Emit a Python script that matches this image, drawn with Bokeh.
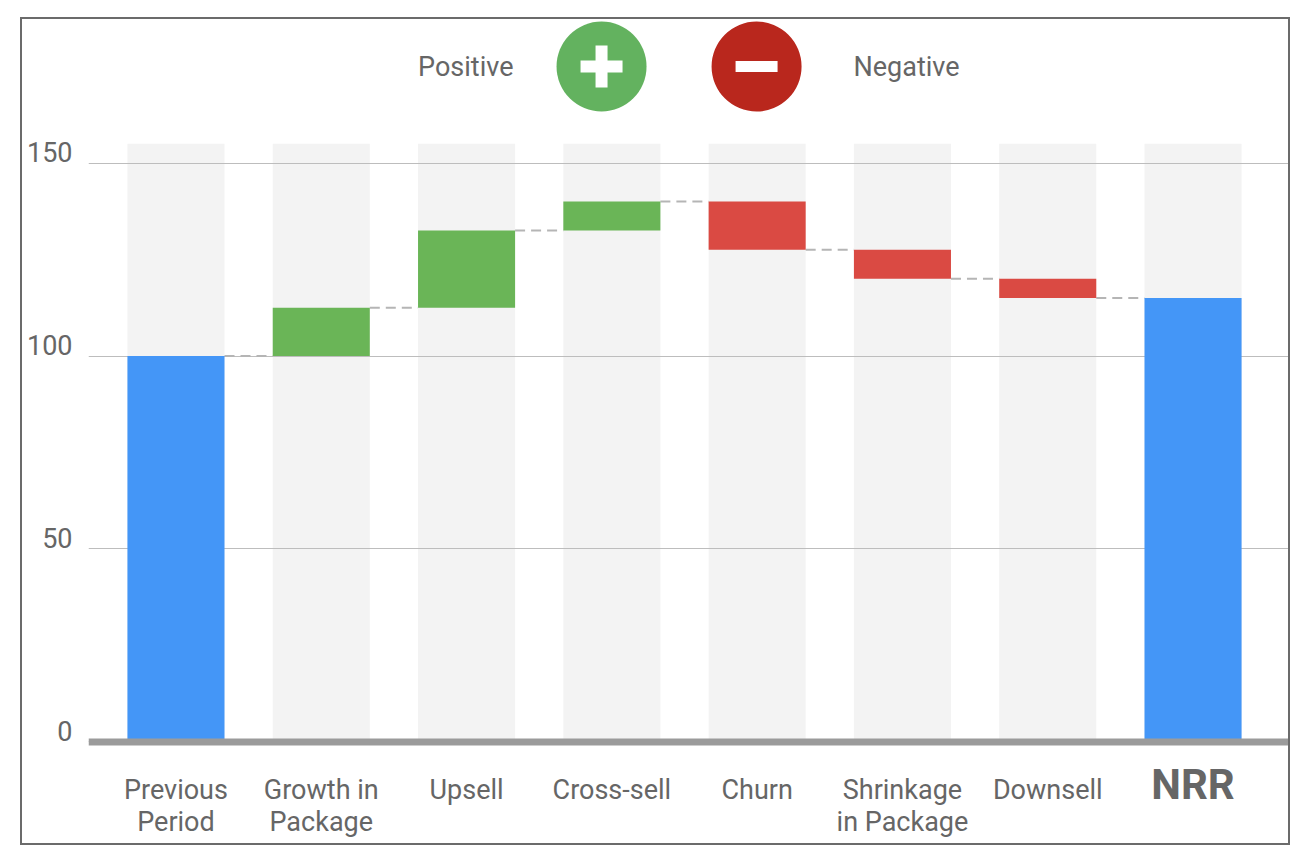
from bokeh.plotting import figure
from bokeh.models import Range1d, LinearAxis, FixedTicker, Span
from bokeh.core.properties import value
from bokeh.embed import file_html
from bokeh.resources import INLINE

# ---------------- data ----------------
categories = ["Previous Period", "Growth in Package", "Upsell", "Cross-sell",
              "Churn", "Shrinkage in Package", "Downsell", "NRR"]
tick_labels = ["Previous\nPeriod", "Growth in\nPackage", "Upsell", "Cross-sell",
               "Churn", "Shrinkage\nin Package", "Downsell", "NRR"]
start_value = 100
changes = [12.5, 20, 7.5, -12.5, -7.5, -5]
y_ticks = [0, 50, 100, 150]
band_top = 155
legend_labels = ["Positive", "Negative"]

# ---------------- style ----------------
FONT = "Roboto"
TXT = "#666666"
BLUE = "#4496f7"
GREEN = "#6ab557"
RED = "#da4a43"
LEG_GREEN = "#63b25f"
LEG_RED = "#b9271d"
BAND = "#f3f3f3"
BAR_W = 0.668

# ---------------- derived ----------------
n = len(categories)
xs = list(range(n))
levels = [start_value]
for c in changes:
    levels.append(levels[-1] + c)
end_value = levels[-1]

bottoms, tops, colors = [0], [start_value], [BLUE]
for i, c in enumerate(changes):
    a, b = levels[i], levels[i + 1]
    bottoms.append(min(a, b))
    tops.append(max(a, b))
    colors.append(GREEN if c >= 0 else RED)
bottoms.append(0)
tops.append(end_value)
colors.append(BLUE)

Y_TOP = 187.18
Y_BOT = -26.30
p = figure(width=1266, height=824,
           x_range=Range1d(-0.602, 7.657), y_range=Range1d(Y_BOT, Y_TOP),
           output_backend="svg", toolbar_location=None,
           min_border_left=66, min_border_right=0, min_border_top=0,
           min_border_bottom=0)
p.margin = (19, 0, 0, 22)
p.styles = {"outline": "2px solid #6b6b6b"}
p.outline_line_color = None
p.background_fill_color = "white"
p.border_fill_color = "white"

# background bands
bands = p.vbar(x=xs, top=[band_top] * n, bottom=0, width=BAR_W,
               fill_color=BAND, line_color=None)
bands.level = "image"

# grid
p.xgrid.visible = False
p.ygrid.ticker = FixedTicker(ticks=y_ticks)
p.ygrid.grid_line_color = "#bdbdbd"
p.ygrid.grid_line_width = 1.2

# connectors
p.segment(x0=[x + BAR_W / 2 for x in xs[:-1]], x1=[x + 1 - BAR_W / 2 for x in xs[:-1]],
          y0=levels, y1=levels, line_color="#b5b5b5", line_width=2,
          line_dash="10 6")

# bars
p.vbar(x=xs, top=tops, bottom=bottoms, width=BAR_W, fill_color=colors,
       line_color=None)

# baseline at zero
p.add_layout(Span(location=0, dimension="width", line_color="#9b9b9b",
                  line_width=7))

# category labels below the baseline
p.xaxis.visible = False
reg = [i for i in xs if categories[i] != "NRR"]
p.text(x=[xs[i] for i in reg], y=-8.4, text=[tick_labels[i] for i in reg],
       text_align="center", text_baseline="top", text_font=value(FONT),
       text_font_size="27px", text_color=TXT, text_line_height=1.0)
p.text(x=[n - 1], y=-11.1, text=[tick_labels[-1]], text_align="center",
       text_baseline="middle", text_font=value(FONT), text_font_size="42px",
       text_font_style="bold", text_color=TXT)

# y axis: labels sit just above their gridlines
p.yaxis[0].visible = False
SHIFT = 2.85
p.extra_y_ranges = {"lbl": Range1d(Y_BOT - SHIFT, Y_TOP - SHIFT)}
ya = LinearAxis(y_range_name="lbl", ticker=FixedTicker(ticks=y_ticks))
ya.axis_line_color = None
ya.major_tick_line_color = None
ya.minor_tick_line_color = None
ya.major_tick_out = 0
ya.major_tick_in = 0
ya.minor_tick_out = 0
ya.minor_tick_in = 0
ya.major_label_text_font = FONT
ya.major_label_text_font_size = "27px"
ya.major_label_text_color = TXT
ya.major_label_standoff = 16
p.add_layout(ya, "left")

# legend (custom, drawn above the bars)
LEG_Y = 175.0
p.scatter(x=[2.929, 3.996], y=[LEG_Y, LEG_Y], size=90,
          fill_color=[LEG_GREEN, LEG_RED], line_color=None)
p.rect(x=[2.929, 2.929, 3.996], y=[LEG_Y] * 3, width=[42, 12, 42],
       height=[12, 42, 11], width_units="screen", height_units="screen",
       fill_color="white", line_color=None)
p.text(x=[2.323, 4.663], y=[LEG_Y, LEG_Y], text=legend_labels,
       text_align=["right", "left"], text_baseline="middle",
       text_font=value(FONT), text_font_size="27px", text_color=TXT)

open("out.html", "w").write(file_html(p, INLINE))
